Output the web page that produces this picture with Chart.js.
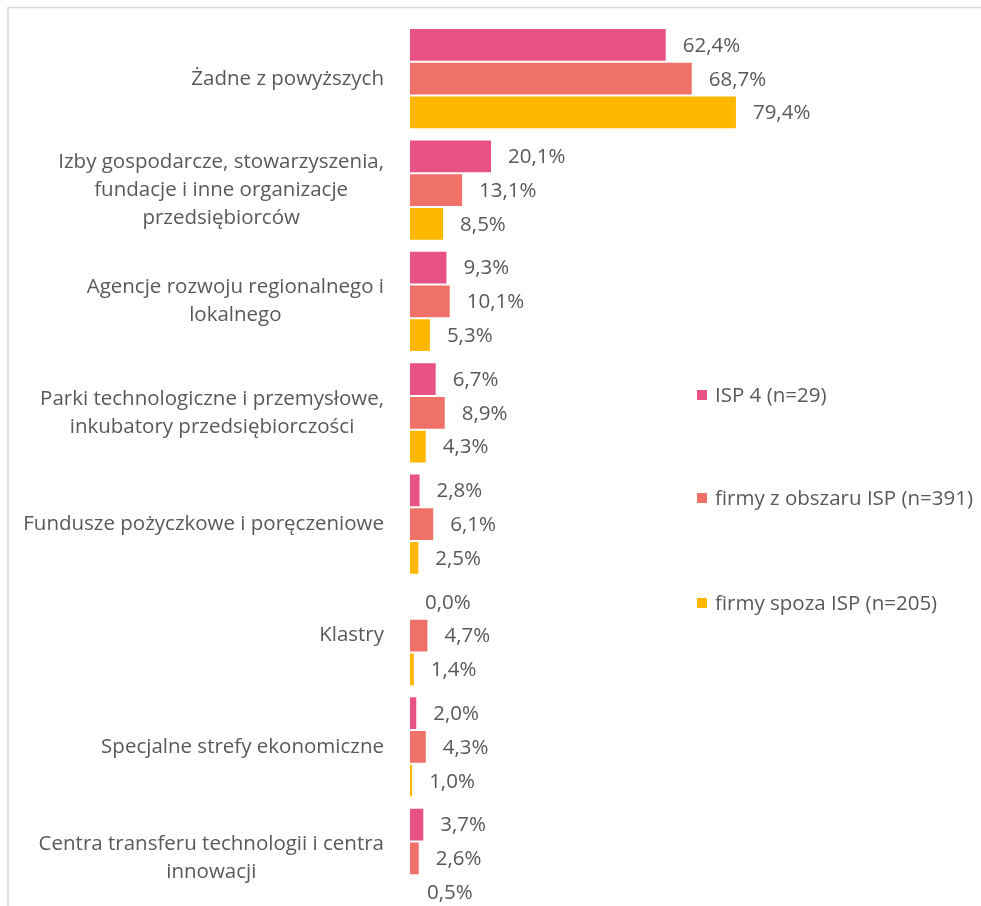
<!DOCTYPE html>
<html>
<head>
<meta charset="utf-8">
<script src="https://cdn.jsdelivr.net/npm/chart.js@4/dist/chart.umd.min.js"></script>
<style>
  html, body { margin:0; padding:0; background:#fff; overflow:hidden; }
  #wrap { position:relative; width:981px; height:930px; }
</style>
</head>
<body>
<div id="wrap"><canvas id="chart" width="981" height="930"></canvas></div>
<script>
// categories and series (percent)
const categories = [
  'Żadne z powyższych',
  ['Izby gospodarcze, stowarzyszenia,', 'fundacje i inne organizacje', 'przedsiębiorców'],
  ['Agencje rozwoju regionalnego i', 'lokalnego'],
  ['Parki technologiczne i przemysłowe,', 'inkubatory przedsiębiorczości'],
  'Fundusze pożyczkowe i poręczeniowe',
  'Klastry',
  'Specjalne strefy ekonomiczne',
  ['Centra transferu technologii i centra', 'innowacji']
];
const seriesNames = ['ISP 4 (n=29)', 'firmy z obszaru ISP (n=391)', 'firmy spoza ISP (n=205)'];
const isp4 =    [62.4, 20.1, 9.3, 6.7, 2.8, 0.0, 2.0, 3.7];
const obszar =  [68.7, 13.1, 10.1, 8.9, 6.1, 4.7, 4.3, 2.6];
const spoza =   [79.4, 8.5, 5.3, 4.3, 2.5, 1.4, 1.0, 0.5];
const colors = ['#E95284', '#F07167', '#FFB700'];

const FONT = '"Open Sans", Lato, sans-serif';
const TXT = '#595959';

const fmt = v => v.toFixed(1).replace('.', ',') + '%';

// border, category labels, value labels, legend
const extras = {
  id: 'extras',
  beforeDraw(chart) {
    const c = chart.ctx;
    c.save();
    c.fillStyle = '#fff';
    c.fillRect(0, 0, chart.width, chart.height);
    c.strokeStyle = '#d9d9d9';
    c.lineWidth = 1.5;
    c.beginPath();
    c.moveTo(8, 930); c.lineTo(8, 7.5); c.lineTo(981, 7.5);
    c.stroke();
    c.restore();
  },
  afterDraw(chart) {
    const c = chart.ctx;
    const y = chart.scales.y;
    const area = chart.chartArea;
    c.save();
    c.font = '20.5px ' + FONT;
    c.fillStyle = TXT;
    c.textBaseline = 'middle';

    // category labels: block right aligned, lines centered
    const lh = 28;
    categories.forEach((lab, i) => {
      const lines = Array.isArray(lab) ? lab : [lab];
      const w = Math.max(...lines.map(l => c.measureText(l).width));
      const right = area.left - 25;
      const cx = right - w / 2;
      const py = y.getPixelForTick(i);
      c.textAlign = 'center';
      lines.forEach((l, k) => {
        c.fillText(l, cx, py + (k - (lines.length - 1) / 2) * lh);
      });
    });

    // value labels
    c.textAlign = 'left';
    chart.data.datasets.forEach((ds, di) => {
      chart.getDatasetMeta(di).data.forEach((bar, i) => {
        c.fillText(fmt(ds.data[i]), bar.x + 16, bar.y + 1);
      });
    });

    // legend
    const legY = [395, 498, 603];
    chart.data.datasets.forEach((ds, di) => {
      c.fillStyle = ds.backgroundColor;
      c.fillRect(697, legY[di] - 5, 10, 10);
      c.fillStyle = TXT;
      c.fillText(ds.label, 715, legY[di] + 1);
    });
    c.restore();
  }
};

new Chart(document.getElementById('chart'), {
  type: 'bar',
  data: {
    labels: categories,
    datasets: [
      { label: seriesNames[0], data: isp4, backgroundColor: colors[0] },
      { label: seriesNames[1], data: obszar, backgroundColor: colors[1] },
      { label: seriesNames[2], data: spoza, backgroundColor: colors[2] }
    ]
  },
  options: {
    indexAxis: 'y',
    responsive: false,
    animation: false,
    datasets: {
      bar: { categoryPercentage: 0.91, barPercentage: 1, borderColor: '#fff', borderWidth: 1, borderSkipped: false }
    },
    layout: { padding: { left: 409, right: 159, top: 23, bottom: 16 } },
    scales: {
      x: { display: false, min: 0, max: 100 },
      y: { display: false }
    },
    plugins: { legend: { display: false }, tooltip: { enabled: false } }
  },
  plugins: [extras]
});
</script>
</body>
</html>
